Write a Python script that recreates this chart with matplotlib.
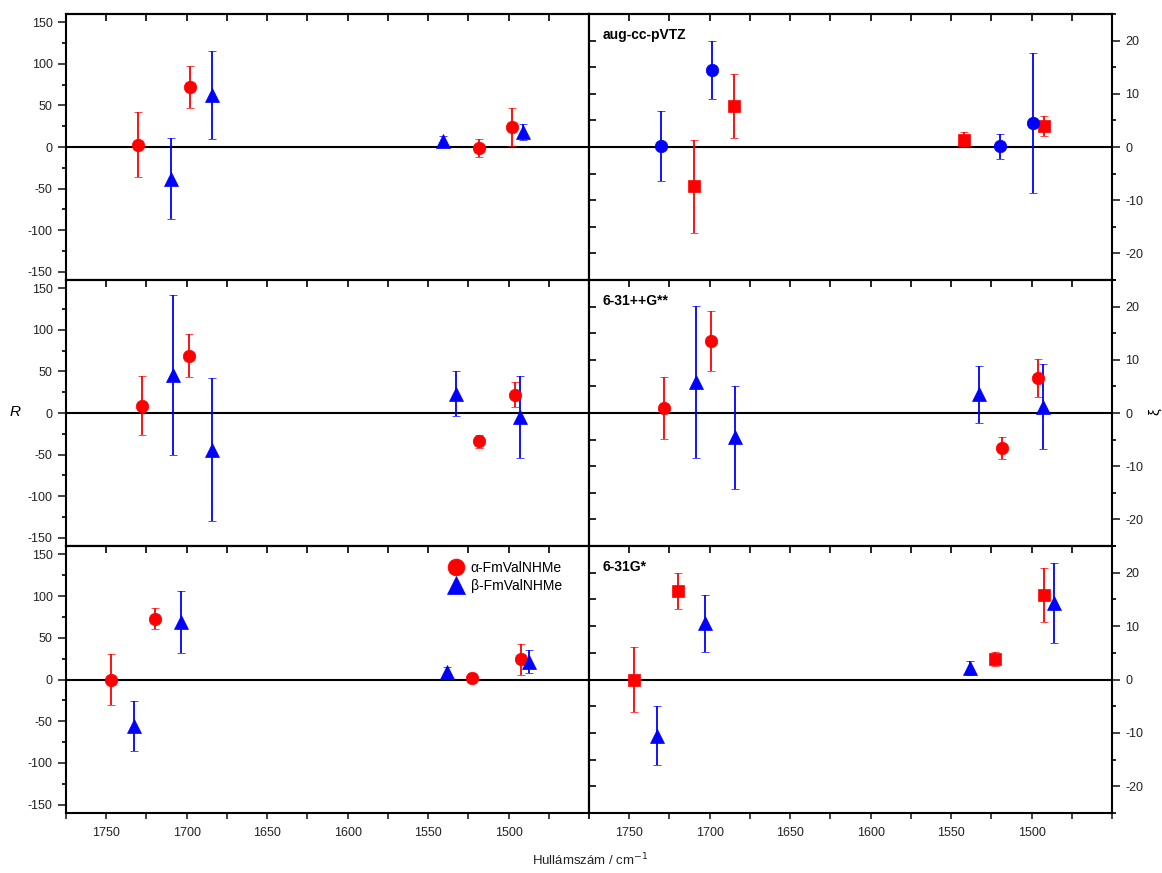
import numpy as np
import matplotlib.pyplot as plt
from matplotlib.ticker import MultipleLocator

plt.rcParams['font.family'] = ['Liberation Sans', 'DejaVu Sans']
plt.rcParams['axes.unicode_minus'] = False

RED = '#ff0000'
BLUE = '#0000ff'

# aug-cc-pVTZ, R (bal oldal)
a1_x = [1730, 1698, 1518.5, 1498]
a1_y = [3, 72.5, -1.3, 24]
a1_e = [39, 25, 11, 23]
b1_x = [1709.5, 1684.5, 1540.5, 1491]
b1_y = [-38, 62.5, 7, 18]
b1_e = [49, 53, 6, 10]

# aug-cc-pVTZ, xi (jobb oldal)
a1x_x = [1710, 1685, 1542, 1492]
a1x_y = [-7.4, 7.7, 1.4, 3.9]
a1x_e = [8.7, 6.1, 1.4, 1.9]
b1x_x = [1730, 1698.5, 1519.5, 1499]
b1x_y = [0.2, 14.5, 0.1, 4.5]
b1x_e = [6.6, 5.5, 2.4, 13.2]

# 6-31++G**, R
a2_x = [1728, 1698.5, 1518.5, 1496]
a2_y = [9, 69, -34, 22]
a2_e = [36, 26, 8, 15]
b2_x = [1708.5, 1684, 1532.5, 1493]
b2_y = [46, -44, 23, -5]
b2_e = [96, 86, 27, 49]

# 6-31++G**, xi
a2x_x = [1728.5, 1699, 1518.5, 1496]
a2x_y = [1.0, 13.5, -6.6, 6.6]
a2x_e = [5.8, 5.6, 2.0, 3.6]
b2x_x = [1708.5, 1684.5, 1532.5, 1493]
b2x_y = [5.9, -4.6, 3.5, 1.2]
b2x_e = [14.3, 9.6, 5.3, 8.0]

# 6-31G*, R
a3_x = [1747, 1720, 1523, 1492.5]
a3_y = [0, 73, 2, 24]
a3_e = [31, 13, 5.6, 18.6]
b3_x = [1732.5, 1703.5, 1538.5, 1487]
b3_y = [-56, 69, 9, 21.5]
b3_e = [30, 37.6, 5.6, 14.2]

# 6-31G*, xi
a3x_x = [1747, 1719.5, 1523, 1492]
a3x_y = [0, 16.6, 3.9, 15.8]
a3x_e = [6.1, 3.4, 1.3, 5.1]
b3x_x = [1732.5, 1703, 1538.5, 1486]
b3x_y = [-10.5, 10.5, 2.1, 14.25]
b3x_e = [5.6, 5.4, 1.3, 7.5]

basis_labels = ['aug-cc-pVTZ', '6-31++G**', '6-31G*']
legend_labels = ['α-FmValNHMe', 'β-FmValNHMe']

left_series = [
    [(a1_x, a1_y, a1_e, RED, 'o'), (b1_x, b1_y, b1_e, BLUE, '^')],
    [(a2_x, a2_y, a2_e, RED, 'o'), (b2_x, b2_y, b2_e, BLUE, '^')],
    [(a3_x, a3_y, a3_e, RED, 'o'), (b3_x, b3_y, b3_e, BLUE, '^')],
]
right_series = [
    [(a1x_x, a1x_y, a1x_e, RED, 's'), (b1x_x, b1x_y, b1x_e, BLUE, 'o')],
    [(a2x_x, a2x_y, a2x_e, RED, 'o'), (b2x_x, b2x_y, b2x_e, BLUE, '^')],
    [(a3x_x, a3x_y, a3x_e, RED, 's'), (b3x_x, b3x_y, b3x_e, BLUE, '^')],
]

W, H = 1162, 873
fig = plt.figure(figsize=(W / 100, H / 100), dpi=100)

x_left, x_mid, x_right = 66, 589, 1112
rows = [(14, 280), (280, 546), (546, 813)]

TICK_COL = '#222222'


def draw_series(ax, series):
    handles = []
    for xs, ys, es, col, mk in series:
        ms = {'o': 9, 's': 8.5, '^': 10}[mk]
        h = ax.errorbar(xs, ys, yerr=es, fmt=mk, color=col, ms=ms,
                        mec=col, mew=0.5, capsize=3, elinewidth=1.3,
                        capthick=1.3, zorder=3)
        handles.append(h)
    return handles


def style_x(ax, bottom_row):
    ax.set_xlim(1775, 1450)
    ax.xaxis.set_major_locator(MultipleLocator(50))
    ax.xaxis.set_minor_locator(MultipleLocator(25))
    ax.tick_params(axis='x', which='both', direction='out', length=4,
                   width=1.2, top=False, bottom=bottom_row,
                   labelbottom=bottom_row, labelsize=9, colors=TICK_COL, pad=6)
    ax.set_xticks([1750, 1700, 1650, 1600, 1550, 1500])
    top = ax.secondary_xaxis('top')
    top.xaxis.set_major_locator(MultipleLocator(25))
    top.tick_params(axis='x', which='both', direction='in', length=5,
                    width=1.2, labeltop=False)
    top.spines['top'].set_linewidth(1.5)


for r, (y0, y1) in enumerate(rows):
    bottom_row = r == len(rows) - 1
    # bal panel: R
    axl = fig.add_axes([x_left / W, 1 - y1 / H, (x_mid - x_left) / W, (y1 - y0) / H])
    axl.axhline(0, color='black', lw=1.5, zorder=2)
    handles = draw_series(axl, left_series[r])
    axl.set_ylim(-160, 160)
    axl.yaxis.set_major_locator(MultipleLocator(50))
    axl.yaxis.set_minor_locator(MultipleLocator(25))
    axl.tick_params(axis='y', which='major', direction='out', length=6, width=1.2,
                    labelsize=9, colors=TICK_COL, right=False)
    axl.tick_params(axis='y', which='minor', direction='out', length=3, width=1.2,
                    right=False)
    style_x(axl, bottom_row)
    for s in axl.spines.values():
        s.set_linewidth(1.5)

    # jobb panel: xi
    axr = fig.add_axes([x_mid / W, 1 - y1 / H, (x_right - x_mid) / W, (y1 - y0) / H])
    axr.axhline(0, color='black', lw=1.5, zorder=2)
    draw_series(axr, right_series[r])
    axr.set_ylim(-25, 25)
    axr.yaxis.set_major_locator(MultipleLocator(10))
    axr.yaxis.set_minor_locator(MultipleLocator(5))
    axr.yaxis.tick_right()
    axr.tick_params(axis='y', which='major', direction='out', length=6, width=1.2,
                    labelsize=9, colors=TICK_COL, left=False, labelleft=False)
    axr.tick_params(axis='y', which='minor', direction='out', length=3, width=1.2,
                    left=False)
    inner = axr.secondary_yaxis('left')
    inner.yaxis.set_major_locator(MultipleLocator(5))
    inner.tick_params(axis='y', which='both', direction='in', length=5,
                      width=1.2, labelleft=False)
    inner.spines['left'].set_linewidth(1.5)
    style_x(axr, bottom_row)
    for s in axr.spines.values():
        s.set_linewidth(1.5)

    axr.text(0.026, 0.92, basis_labels[r], transform=axr.transAxes,
             fontsize=10, fontweight='bold', ha='left', va='center')

    if bottom_row:
        axl.legend([h[0] for h in handles], legend_labels, loc='upper left',
                   bbox_to_anchor=(0.705, 0.99), frameon=False,
                   fontsize=10, handletextpad=0.5, labelspacing=0.25,
                   markerscale=1.35, handlelength=1.2)

fig.text(15 / W, 1 - 412 / H, 'R', fontsize=11, style='italic',
         ha='center', va='center')
fig.text(1155 / W, 1 - 412 / H, 'ξ', fontsize=11, rotation=90,
         ha='center', va='center')
fig.text(590 / W, 1 - 860 / H, 'Hullámszám / cm$^{-1}$', fontsize=9.5,
         ha='center', va='center', color=TICK_COL)

fig.savefig('out.png', dpi=100)
